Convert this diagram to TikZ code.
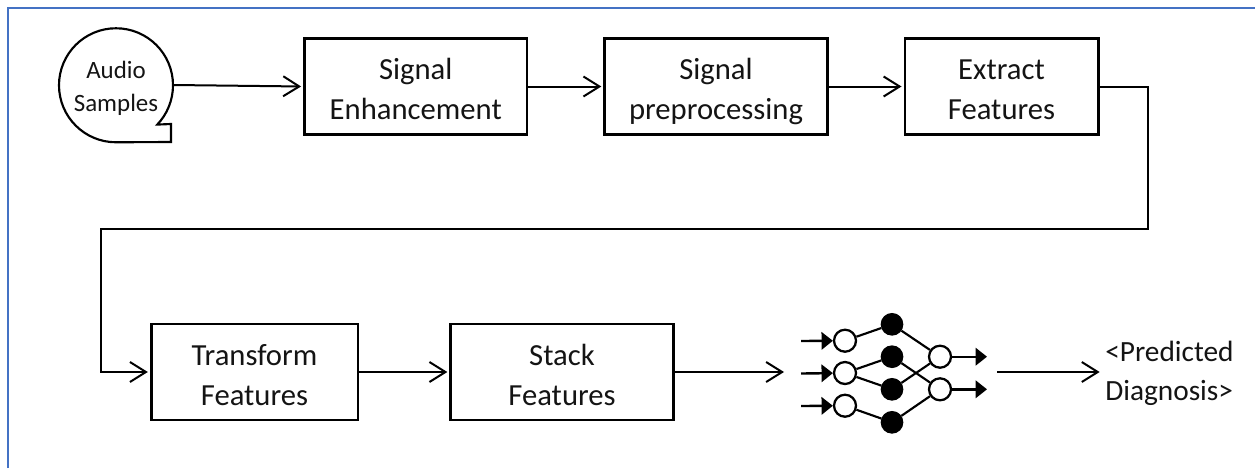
\documentclass[tikz,border=0pt]{standalone}
\usepackage{fontspec}
\setmainfont{Carlito}
\usetikzlibrary{arrows.meta}
\definecolor{frameblue}{RGB}{68,114,196}
\definecolor{ink}{RGB}{20,20,20}
\newcommand\boxline{\rule[-4.9pt]{0pt}{30pt}}
\newcommand\audioline{\rule[-4.7pt]{0pt}{24.7pt}}
\newcommand\diagline{\rule[-8pt]{0pt}{29.5pt}}
\tikzset{
  procbox/.style={draw=black,line width=2pt,inner sep=0pt,align=center,text=ink,
    font=\fontsize{23}{30}\selectfont},
  link/.style={draw=black,line width=1.5pt,-{Straight Barb[length=12pt,width=15pt,line width=1.5pt]},shorten >=1.5pt},
  whitedot/.style={circle,draw=black,line width=1.7pt,fill=white,minimum size=16.5pt,inner sep=0pt},
  blackdot/.style={circle,draw=black,line width=1pt,fill=black,minimum size=16pt,inner sep=0pt},
  netedge/.style={draw=black,line width=1.6pt},
  netarrow/.style={draw=black,line width=1.8pt,-{Triangle[length=8.5pt,width=13pt]}},
}
\begin{document}
\begin{tikzpicture}[x=0.75pt,y=-0.75pt]
\useasboundingbox (0,0) rectangle (1255,468);
\draw[frameblue,line width=1.5pt] (7.5,468) -- (7.5,8) -- (1255,8);

% speech-bubble source
\node[circle,minimum size=85.5pt,inner sep=0pt,align=center,text=ink,
      font=\fontsize{18.7}{24.7}\selectfont] (audio) at (116,85) {\audioline Audio\\\audioline Samples};
\draw[black,line width=1.6pt,line join=miter]
  (audio.south) arc[start angle=90,end angle=403.6,radius=57] -- (171,124) -- (171,142) -- cycle;

\node[procbox,minimum width=167pt,minimum height=72pt] (enh) at (415.75,86.5) {\boxline Signal\\\boxline Enhancement};
\node[procbox,minimum width=167pt,minimum height=72pt] (pre) at (716,86.5) {\boxline Signal\\\boxline preprocessing};
\node[procbox,minimum width=145pt,minimum height=72pt] (ext) at (1001.5,86.5) {\boxline Extract\\\boxline Features};
\node[procbox,minimum width=155pt,minimum height=72pt] (tra) at (254.5,372) {\boxline Transform\\\boxline Features};
\node[procbox,minimum width=167pt,minimum height=72pt] (sta) at (562,372) {\boxline Stack\\\boxline Features};

\node[inner sep=0pt,anchor=west,align=left,text=ink,font=\fontsize{22}{29.5}\selectfont] (dia) at (1105,372) {\diagline <Predicted\\\diagline Diagnosis>};

% neural network glyph
\node[whitedot] (i1) at (845,340.7) {};
\node[whitedot] (i2) at (845,373) {};
\node[whitedot] (i3) at (845,405.7) {};
\node[blackdot] (h1) at (892,324.3) {};
\node[blackdot] (h2) at (892,356.7) {};
\node[blackdot] (h3) at (892,389.3) {};
\node[blackdot] (h4) at (892,422.3) {};
\node[whitedot] (o1) at (940,356.7) {};
\node[whitedot] (o2) at (940,389.3) {};
\draw[netedge] (i1)--(h1) (i2)--(h2) (i2)--(h3) (i3)--(h4)
               (h1)--(o1) (h2)--(o2) (h3)--(o1) (h4)--(o2);
\coordinate (a1) at (801,341);
\coordinate (a2) at (801,373.5);
\coordinate (a3) at (801,406);
\coordinate (b1) at (987,356.7);
\coordinate (b2) at (987,389.3);
\draw[netarrow] (a1) -- (i1);
\draw[netarrow] (a2) -- (i2);
\draw[netarrow] (a3) -- (i3);
\draw[netarrow] (o1) -- (b1);
\draw[netarrow] (o2) -- (b2);

% connectors
\coordinate (netin) at (784,372);
\coordinate (netout) at (997,372);
\coordinate (t1) at (1147.5,86.5);
\coordinate (t2) at (1147.5,229);
\coordinate (t3) at (101,229);
\coordinate (t4) at (101,372);
\draw[link] (audio.east) -- (enh.west);
\draw[link] (enh) -- (pre);
\draw[link] (pre) -- (ext);
\draw[link,line join=miter] (ext.east) -- (t1) -- (t2) -- (t3) -- (t4) -- (tra.west);
\draw[link] (tra) -- (sta);
\draw[link,shorten >=0pt] (sta.east) -- (netin);
\draw[link,shorten >=4pt] (netout) -- (dia.west);
\end{tikzpicture}
\end{document}
